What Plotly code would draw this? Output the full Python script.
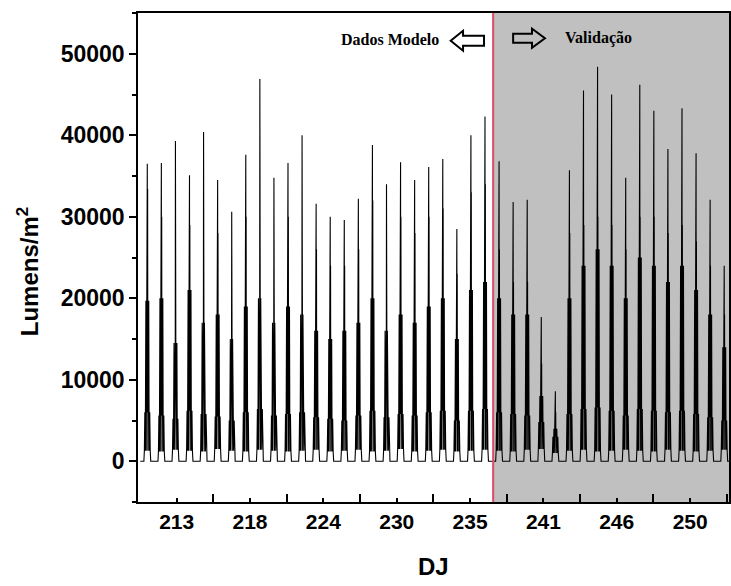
import plotly.graph_objects as go

# ---------------- data ----------------
days = list(range(211, 253))  # Julian days, 42 daily cycles
peak_lux = [36500, 36600, 39300, 35100, 40400, 34500, 30600, 37600, 46900, 34800,
            36600, 40000, 31600, 30000, 29600, 32200, 38800, 34000, 36700, 34500,
            36100, 37100, 28500, 40000, 42300, 36800, 31800, 32100, 17700, 8600,
            35700, 45500, 48400, 45000, 34800, 46200, 43000, 38300, 43300, 37800,
            32100, 24000]
second_lux = [33400, 30000, 32400, 29000, 35600, 28000, 24000, 30000, 32000, 28000,
              30000, 33000, 26000, 24000, 24000, 26000, 32000, 28000, 30000, 28000,
              30000, 31000, 23000, 33000, 34000, 26000, 22000, 22000, 12000, 6000,
              28000, 29000, 30000, 29000, 26000, 30000, 30000, 28000, 29000, 27000,
              24000, 18000]
mid_lux = [19700, 20000, 14500, 21000, 17000, 18000, 15000, 19000, 20000, 17000,
           19000, 18000, 16000, 15000, 16000, 17000, 20000, 16000, 18000, 17000,
           19000, 20000, 15000, 21000, 22000, 20000, 18000, 18000, 8000, 4000,
           20000, 24000, 26000, 24000, 20000, 25000, 24000, 22000, 24000, 21000,
           18000, 14000]
lowmid_lux = [11000, 12000, 9000, 12500, 10000, 11000, 9000, 11500, 12000, 10000,
              11000, 10500, 9500, 9000, 9500, 10000, 12000, 9500, 11000, 10000,
              11000, 12000, 9000, 12500, 13000, 12000, 11000, 11000, 6000, 3000,
              12000, 14000, 15000, 14000, 12000, 15000, 14000, 13000, 14000, 12500,
              11000, 9000]
shoulder_lux = [6000, 5600, 5200, 6200, 5800, 5500, 5000, 6000, 6400, 5600,
                5800, 6000, 5400, 5200, 5000, 5600, 6200, 5400, 5800, 5600,
                6000, 6200, 5000, 6200, 6400, 6000, 5800, 5600, 4800, 3000,
                5800, 6400, 6600, 6200, 5600, 6400, 6200, 6000, 6200, 5800,
                5400, 5000]
base_lux = [1300, 1200, 1400, 1300, 1200, 1500, 1300, 1200, 1400, 1300,
            1200, 1300, 1400, 1200, 1300, 1400, 1200, 1300, 1500, 1200,
            1300, 1400, 1200, 1300, 1400, 1300, 1200, 1400, 1500, 1000,
            1300, 1400, 1200, 1300, 1400, 1300, 1200, 1400, 1300, 1200,
            1300, 1400]
sample_hours = [0, 6.2, 7.0, 7.8, 8.6, 9.6, 10.2, 10.8, 11.3, 11.7, 12.0, 12.3,
                12.6, 13.0, 13.5, 14.0, 14.5, 15.2, 16.2, 17.0, 17.9]
sample_level = ['zero', 'zero', 'base', 'shoulder', 'base', 'mid', 'base', 'lowmid',
                'shoulder', 'mid', 'peak', 'shoulder', 'second', 'base', 'mid',
                'shoulder', 'mid', 'base', 'shoulder', 'base', 'zero']

tick_labels = ['213', '218', '224', '230', '235', '241', '246', '250']
split_day = 236.08  # start of validation period

# ---------------- build series ----------------
levels = {'peak': peak_lux, 'second': second_lux, 'mid': mid_lux,
          'lowmid': lowmid_lux, 'shoulder': shoulder_lux, 'base': base_lux}
xs, ys = [], []
for i, d in enumerate(days):
    for h, lv in zip(sample_hours, sample_level):
        xs.append(d + h / 24.0)
        ys.append(0 if lv == 'zero' else levels[lv][i])
xs.append(days[-1] + 1)
ys.append(0)

x_range = [210.84, 252.84]
label_ticks = [213.59, 218.80, 224.01, 229.23, 234.44, 239.65, 244.86, 250.08]
long_ticks = [216.19, 221.40, 226.62, 231.83, 237.04, 242.25, 247.47, 252.68]

fig = go.Figure()
fig.add_trace(go.Scatter(x=xs, y=ys, mode='lines',
                         line=dict(color='black', width=1.1), hoverinfo='skip',
                         showlegend=False))

# grey validation background and red separator
fig.add_shape(type='rect', xref='x', yref='paper', x0=split_day, x1=x_range[1],
              y0=0, y1=1, fillcolor='#c0c0c0', line_width=0, layer='below')
fig.add_shape(type='line', xref='x', yref='paper', x0=split_day, x1=split_day,
              y0=0, y1=1, line=dict(color='#dc4a68', width=2))

# hollow arrows
fig.add_shape(type='path', xref='x', yref='y',
              path='M 233.06 51590 L 233.94 52820 L 233.94 52200 L 235.43 52200 '
                   'L 235.43 50980 L 233.94 50980 L 233.94 50370 Z',
              line=dict(color='black', width=2), fillcolor='white')
fig.add_shape(type='path', xref='x', yref='y',
              path='M 237.50 52450 L 238.84 52450 L 238.84 53060 L 239.76 51900 '
                   'L 238.84 50730 L 238.84 51350 L 237.50 51350 Z',
              line=dict(color='black', width=2), fillcolor='rgba(0,0,0,0)')

serif = 'Liberation Serif, Times New Roman, serif'
fig.add_annotation(x=228.73, y=51720, xref='x', yref='y', text='<b>Dados Modelo</b>',
                   showarrow=False, font=dict(family=serif, size=16, color='black'))
fig.add_annotation(x=243.57, y=51880, xref='x', yref='y', text='<b>Validação</b>',
                   showarrow=False, font=dict(family=serif, size=16, color='black'))

sans = 'Liberation Sans, Arial, sans-serif'
# axis titles
fig.add_annotation(x=-0.186, y=0.47, xref='paper', yref='paper',
                   text='<b>Lumens/m<sup>2</sup></b>', textangle=-90, showarrow=False,
                   xanchor='center', yanchor='middle',
                   font=dict(family=sans, size=24, color='black'))
fig.add_annotation(x=0.5, y=-0.131, xref='paper', yref='paper', text='<b>DJ</b>',
                   showarrow=False, xanchor='center', yanchor='middle',
                   font=dict(family=sans, size=24, color='black'))

fig.update_layout(
    width=731, height=586,
    margin=dict(l=138, r=2, t=13, b=84),
    paper_bgcolor='white', plot_bgcolor='white',
    font=dict(family=sans, color='black'),
    xaxis=dict(range=x_range, showgrid=False, zeroline=False, automargin=False,
               showline=True, linecolor='black', linewidth=1.5, mirror=True,
               tickmode='array', tickvals=label_ticks, ticktext=tick_labels,
               ticks='inside', ticklen=4, tickwidth=1.5, tickcolor='black',
               minor=dict(tickmode='array', tickvals=long_ticks, ticks='inside',
                          ticklen=8, tickwidth=1.5, tickcolor='black'),
               tickfont=dict(family=sans, size=21, weight='bold')),
    yaxis=dict(range=[-5000, 55000], showgrid=False, zeroline=False, automargin=False,
               showline=True, linecolor='black', linewidth=1.5, mirror=True,
               tick0=0, dtick=10000, tickformat='d', ticks='outside', ticklen=7,
               tickwidth=1.5, tickcolor='black',
               minor=dict(dtick=5000, ticks='outside', ticklen=4, tickwidth=1.5,
                          tickcolor='black'),
               tickfont=dict(family=sans, size=23, weight='bold')),
)

fig.write_html('out.html', config={'displayModeBar': False},
               post_script="document.body.style.margin='0';"
                           "document.documentElement.style.overflow='hidden';")
